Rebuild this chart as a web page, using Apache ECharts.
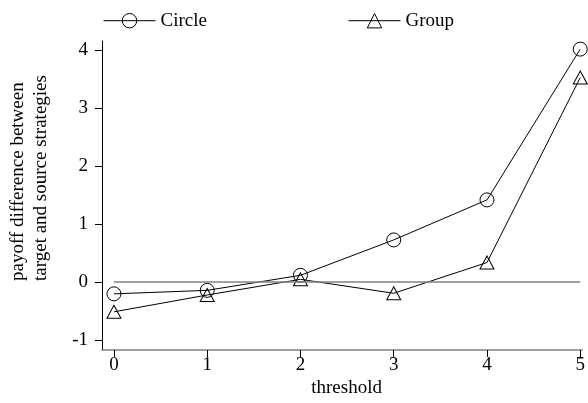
<!DOCTYPE html>
<html>
<head>
<meta charset="utf-8">
<script src="https://cdn.jsdelivr.net/npm/echarts@6/dist/echarts.min.js"></script>
<style>
  html, body { margin: 0; padding: 0; background: #fff; }
  #chart { width: 588px; height: 403px; }
</style>
</head>
<body>
<div id="chart"></div>
<script>
// threshold values on the x axis
const thresholds = [0, 1, 2, 3, 4, 5];
// payoff difference for each strategy type
const circleValues = [-0.20, -0.14, 0.12, 0.73, 1.42, 4.02];
const groupValues = [-0.51, -0.22, 0.05, -0.19, 0.34, 3.53];
// tick labels
const xTicks = [0, 1, 2, 3, 4, 5];
const yTicks = [-1, 0, 1, 2, 3, 4];

const FONT = 'Liberation Serif, Times New Roman, serif';

const chart = echarts.init(document.getElementById('chart'), null, { renderer: 'canvas' });

function pairs(xs, ys) { return xs.map((x, i) => [x, ys[i]]); }

const markerStyle = { color: 'none', borderColor: '#000', borderWidth: 1 };

const legendBase = {
  top: 11, padding: 0, itemWidth: 52, itemHeight: 18, itemGap: 6,
  lineStyle: { width: 1, color: '#000' },
  itemStyle: { color: 'none', borderColor: '#000', borderWidth: 1 },
  textStyle: { fontFamily: FONT, fontSize: 19, color: '#000' }
};

chart.setOption({
  animation: false,
  backgroundColor: '#fff',
  grid: { left: 102, right: 4, top: 41, bottom: 51 },
  legend: [
    Object.assign({ left: 103, data: ['Circle'] }, legendBase),
    Object.assign({ left: 348, data: ['Group'] }, legendBase)
  ],
  xAxis: {
    type: 'value',
    min: -0.128, max: 5.02,
    name: 'threshold', nameLocation: 'middle', nameGap: 28,
    nameTextStyle: { fontFamily: FONT, fontSize: 19, color: '#000', padding: [0, 0, 0, 9] },
    splitLine: { show: false },
    axisLine: { show: true, onZero: false, lineStyle: { color: '#808080', width: 1.5 } },
    axisTick: { show: true, length: 7, lineStyle: { color: '#000' }, customValues: xTicks },
    axisLabel: { fontFamily: FONT, fontSize: 19, color: '#000', margin: 5, customValues: xTicks }
  },
  yAxis: {
    type: 'value',
    min: -1.17, max: 4.16,
    splitLine: { show: false },
    axisLine: { show: true, onZero: false, lineStyle: { color: '#000', width: 1 } },
    axisTick: { show: true, length: 7, lineStyle: { color: '#000' }, customValues: yTicks },
    axisLabel: { fontFamily: FONT, fontSize: 19, color: '#000', margin: 14, customValues: yTicks }
  },
  graphic: [
    {
      type: 'text',
      x: 7, y: 281,
      rotation: Math.PI / 2,
      style: {
        text: 'payoff difference between\ntarget and source strategies',
        font: '19px ' + FONT,
        fill: '#000',
        align: 'left',
        verticalAlign: 'top',
        lineHeight: 23
      }
    }
  ],
  series: [
    {
      name: 'Circle',
      type: 'line',
      data: pairs(thresholds, circleValues),
      symbol: 'circle', symbolSize: 14,
      itemStyle: markerStyle,
      lineStyle: { color: '#000', width: 1 },
      z: 3,
      markLine: {
        silent: true, symbol: ['none', 'none'],
        label: { show: false },
        lineStyle: { color: '#808080', width: 1.6, type: 'solid' },
        data: [[{ coord: [0, 0] }, { coord: [5, 0] }]]
      }
    },
    {
      name: 'Group',
      type: 'line',
      data: pairs(thresholds, groupValues),
      symbol: 'triangle', symbolSize: [14, 13],
      itemStyle: markerStyle,
      lineStyle: { color: '#000', width: 1 },
      z: 3
    }
  ]
});
</script>
</body>
</html>
